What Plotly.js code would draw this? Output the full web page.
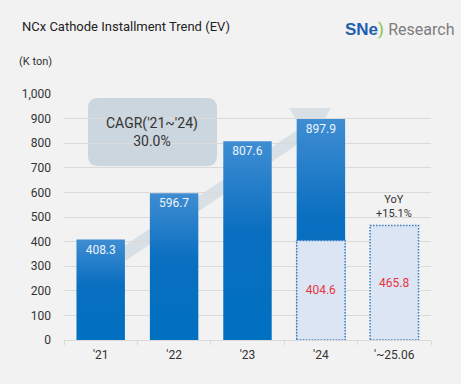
<!DOCTYPE html>
<html><head><meta charset="utf-8">
<script src="https://cdn.plot.ly/plotly-3.0.1.min.js"></script>
<style>html,body{margin:0;padding:0;background:#f2f2f2;}#chart{width:461px;height:384px;}</style>
</head><body><div id="chart"></div>
<script>
const categories = ["'21", "'22", "'23", "'24", "'~25.06"];
const totals = [408.3, 596.7, 807.6, 897.9, null];
const halfYear = [null, null, null, 404.6, 465.8];
const totalLabels = ["408.3", "596.7", "807.6", "897.9", ""];
const halfLabels = ["", "", "", "404.6", "465.8"];
const cagrText = "CAGR('21~'24)<br>30.0%";
const yoyText = "YoY<br>+15.1%";

const BW = 0.66;
const blue = '#0a6fc0';

const traces = [
  {
    type: 'bar', x: categories, y: totals, width: BW,
    marker: {color: blue, line: {width: 0}},
    text: totalLabels, textposition: 'inside', insidetextanchor: 'end',
    textfont: {family: 'Roboto, Arial, sans-serif', size: 12, color: '#eef4fc'},
    hoverinfo: 'none', cliponaxis: false
  },
  {
    type: 'bar', x: categories, y: halfYear, width: BW,
    marker: {color: '#dbe5f4', line: {width: 0}},
    text: halfLabels, textposition: 'inside', insidetextanchor: 'middle',
    textfont: {family: 'Roboto, Arial, sans-serif', size: 12, color: '#e8353f'},
    hoverinfo: 'none'
  }
];

const L = 64, R = 30, T = 94, B = 44, W = 461, H = 384;
const pw = W - L - R, ph = H - T - B;
const px = x => (x - L) / pw;
const py = y => (H - B - y) / ph;
function poly(pts) { return 'M' + pts.map(p => px(p[0]).toFixed(4) + ',' + py(p[1]).toFixed(4)).join(' L') + ' Z'; }

const shapes = [
  {type: 'path', xref: 'paper', yref: 'paper', layer: 'below',
   path: poly([[100,262],[296,131],[300,125],[289,108],[331,108],[318,130],[304,140],[100,278]]),
   fillcolor: '#d8dfe5', line: {width: 0}}
];
(function(){
  const x0=88,x1=217,y0=98,y1=166,r=10;
  const P=(x,y)=>px(x).toFixed(4)+','+py(y).toFixed(4);
  shapes.push({type: 'path', xref: 'paper', yref: 'paper', layer: 'below', fillcolor: '#ccd6de', line: {width: 0},
    path: 'M'+P(x0+r,y0)+' L'+P(x1-r,y0)+' Q'+P(x1,y0)+' '+P(x1,y0+r)+' L'+P(x1,y1-r)+' Q'+P(x1,y1)+' '+P(x1-r,y1)+' L'+P(x0+r,y1)+' Q'+P(x0,y1)+' '+P(x0,y1-r)+' L'+P(x0,y0+r)+' Q'+P(x0,y0)+' '+P(x0+r,y0)+' Z'});
})();

// dotted outlines of the half-year bars, derived from data
halfYear.forEach((v, i) => {
  if (v == null) return;
  shapes.push({type: 'rect', xref: 'x', yref: 'y', layer: 'above',
    x0: i - BW/2, x1: i + BW/2, y0: 0, y1: v,
    line: {color: '#3b7cc4', width: 1.5, dash: '1.5px,1.5px'}, fillcolor: 'rgba(0,0,0,0)'});
});

const layout = {
  width: 461, height: 384,
  margin: {l: L, r: R, t: T, b: B},
  paper_bgcolor: '#f2f2f2', plot_bgcolor: '#f2f2f2',
  barmode: 'overlay', showlegend: false,
  font: {family: 'Roboto, Arial, sans-serif', color: '#333333'},
  xaxis: {
    type: 'category', tickfont: {size: 12, color: '#333333'},
    ticks: 'outside', tickson: 'boundaries', ticklen: 4, tickcolor: '#d9d9d9',
    showline: true, linecolor: '#d9d9d9', linewidth: 1, showgrid: false,
    ticklabelstandoff: 4, fixedrange: true
  },
  yaxis: {
    range: [0, 1000], dtick: 100, tickformat: ',d',
    tickfont: {size: 12, color: '#333333'},
    gridcolor: '#dadada', gridwidth: 1, zeroline: false,
    ticklabelstandoff: 12, fixedrange: true
  },
  shapes: shapes,
  annotations: [
    {xref: 'paper', yref: 'paper', x: px(20), y: py(26), xanchor: 'left', yanchor: 'middle',
     text: 'NCx Cathode Installment Trend (EV)', showarrow: false,
     font: {size: 13, color: '#222222', family: 'Roboto, Arial, sans-serif'}},
    {xref: 'paper', yref: 'paper', x: px(17), y: py(62), xanchor: 'left', yanchor: 'middle',
     text: '(K ton)', showarrow: false, font: {size: 11, color: '#333333'}},
    {xref: 'paper', yref: 'paper', x: px(343), y: py(29), xanchor: 'left', yanchor: 'middle',
     text: '<b><span style="color:#1d5fae;font-size:17px;font-family:Arial">SNe</span></b><span style="color:#7cc242;font-size:17px">) </span><span style="color:#7d7d7d;font-size:16px;font-family:\'Liberation Sans Narrow\',\'Roboto\'">Research</span>',
     showarrow: false, font: {size: 16, family: 'Roboto, Arial, sans-serif'}},
    {xref: 'paper', yref: 'paper', x: px(152), y: py(132), xanchor: 'center', yanchor: 'middle',
     text: cagrText, showarrow: false, font: {size: 14, color: '#333333'}},
    {xref: 'x', yref: 'y', x: categories[4], y: halfYear[4], xanchor: 'center', yanchor: 'bottom',
     yshift: 3, text: yoyText, showarrow: false, font: {size: 11, color: '#333333'}}
  ]
};

Plotly.newPlot('chart', traces, layout, {displayModeBar: false, staticPlot: true}).then(gd => {
  // vertical gradient on the solid bars, as in the reference
  const svg = gd.querySelector('.main-svg');
  const NS = 'http://www.w3.org/2000/svg';
  let defs = svg.querySelector('defs');
  if (!defs) { defs = document.createElementNS(NS, 'defs'); svg.insertBefore(defs, svg.firstChild); }
  const g = document.createElementNS(NS, 'linearGradient');
  g.setAttribute('id', 'barGrad'); g.setAttribute('x1', '0'); g.setAttribute('y1', '0');
  g.setAttribute('x2', '0'); g.setAttribute('y2', '1');
  [['0%', '#3f8dd2'], ['45%', '#0a6fc0'], ['100%', '#0070c0']].forEach(([o, c]) => {
    const s = document.createElementNS(NS, 'stop'); s.setAttribute('offset', o); s.setAttribute('stop-color', c); g.appendChild(s);
  });
  defs.appendChild(g);
  const tr = gd.querySelectorAll('.barlayer .trace')[0];
  if (tr) tr.querySelectorAll('.point path').forEach(p => { p.style.fill = 'url(#barGrad)'; });
});
</script></body></html>
